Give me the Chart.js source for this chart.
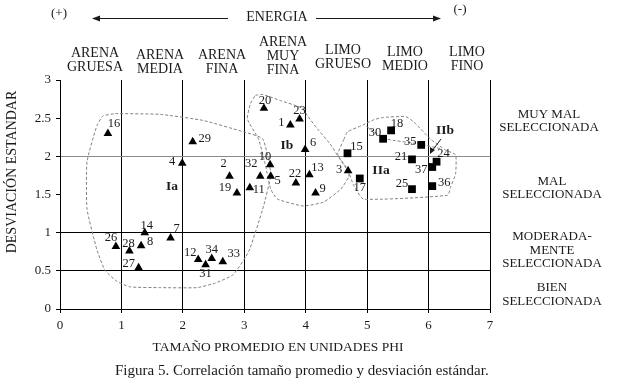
<!DOCTYPE html>
<html>
<head>
<meta charset="utf-8">
<script src="https://cdn.jsdelivr.net/npm/chart.js@4.4.1/dist/chart.umd.min.js"></script>
<style>
html,body{margin:0;padding:0;background:#fff;}
#wrap{width:617px;height:388px;position:relative;}
</style>
</head>
<body>
<div id="wrap"><canvas id="c" width="617" height="388"></canvas></div>
<script>
// ---------- DATA ----------
const triNames = ['16','29','4','2','19','11','32','10','5','20','1','23','6','22','13','9','3','14','7','26','28','8','27','12','34','31','33'];
const triX = [0.78,2.16,1.99,2.76,2.88,3.09,3.26,3.42,3.43,3.32,3.75,3.90,3.99,3.84,4.06,4.16,4.69,1.38,1.80,0.91,1.13,1.32,1.28,2.25,2.47,2.37,2.65];
const triY = [2.30,2.19,1.91,1.74,1.52,1.59,1.74,1.89,1.74,2.63,2.41,2.49,2.09,1.65,1.76,1.52,1.81,1.00,0.93,0.82,0.76,0.83,0.54,0.65,0.66,0.58,0.62];

const sqNames = ['15','17','18','30','35','21','24','37','25','36'];
const sqX = [4.68,4.88,5.39,5.26,5.88,5.73,6.13,6.06,5.73,6.06];
const sqY = [2.04,1.71,2.34,2.23,2.15,1.96,1.93,1.86,1.57,1.61];

// cluster outlines (vertices in data units)
const iaX = [0.90,1.63,2.33,2.99,3.30,3.43,3.30,3.07,2.82,2.53,2.23,1.63,1.14,0.93,0.73,0.60,0.44,0.44,0.60,0.70,0.90];
const iaY = [2.56,2.55,2.47,2.32,2.23,1.77,1.31,0.75,0.45,0.34,0.28,0.28,0.29,0.36,0.51,0.78,1.31,1.93,2.40,2.53,2.56];
const ibX = [3.18,3.30,3.59,3.95,4.03,4.19,4.40,4.52,4.70,4.70,4.57,4.29,3.96,3.54,3.43,3.34,3.23,3.05,3.10,3.18];
const ibY = [2.80,2.81,2.73,2.63,2.53,2.36,2.16,2.01,1.81,1.73,1.57,1.40,1.35,1.44,1.57,1.90,2.23,2.49,2.69,2.80];
const iiaX = [4.62,4.68,4.93,5.11,5.27,5.63,5.76,6.04,6.28,6.44,6.44,6.36,6.31,4.94,4.78,4.70,4.57,4.52,4.62];
const iiaY = [2.22,2.32,2.41,2.48,2.51,2.52,2.45,2.22,2.08,2.02,1.77,1.60,1.49,1.44,1.62,1.79,1.95,2.03,2.22];
const iibX = [4.99,5.30,5.87,6.20];
const iibY = [2.39,2.23,2.16,2.10];

const xTickValues = [0,1,2,3,4,5,6,7];
const yTickValues = [0,0.5,1,1.5,2,2.5,3];

const sizeClasses = [['ARENA','GRUESA'],['ARENA','MEDIA'],['ARENA','FINA'],['ARENA','MUY','FINA'],['LIMO','GRUESO'],['LIMO','MEDIO'],['LIMO','FINO']];
const sortingClasses = [['MUY MAL','SELECCIONADA'],['MAL','SELECCIONADA'],['MODERADA-','MENTE','SELECCIONADA'],['BIEN','SELECCIONADA']];
const groupNames = ['Ia','Ib','IIa','IIb'];

const xTitle = 'TAMAÑO PROMEDIO EN UNIDADES PHI';
const yTitle = 'DESVIACIÓN ESTANDAR';
const caption = 'Figura 5. Correlación tamaño promedio y desviación estándar.';

// ---------- STYLE / LAYOUT (not data) ----------
const FONT = "'Liberation Serif','DejaVu Serif',serif";
const triLabelOffsets = [[6,-10],[12,-3],[-10,-1],[-6,-12],[-12,-5],[9,2],[-9,-12],[-5,-8],[7,5],[1,-8],[-9,-2],[0,-8],[8,-7],[-1,-9],[8,-7],[7,-4],[-9,-1],[2,-7],[6,-9],[-5,-9],[-1,-7],[9,-4],[-10,-4],[-8,-7],[0,-9],[0,9],[11,-8]];
const sqLabelOffsets = [[9,-7],[0,9],[6,-7],[-8,-6],[-11,-3],[-11,-3],[7,-8],[-11,3],[-10,-5],[12,-3]];
const classLabelPos = [[95,[53,67]],[160,[55,69]],[222,[55,69]],[283,[42,56,70]],[343,[50,64]],[405,[52,66]],[467,[52,66]]];
const sortLabelPos = [[549,[115,128]],[552,[182,195]],[552,[237,251,264]],[552,[288,302]]];
const groupLabelPos = [[172,187],[287,146],[381,171],[445,131]];

function toPts(xs, ys){ return xs.map((x,i)=>({x:x,y:ys[i]})); }

const outlineStyle = {showLine:true, pointRadius:0, borderColor:'#808080', borderWidth:1, borderDash:[3,2], tension:0.15, fill:false};

const textPlugin = {
  id:'texts',
  afterDatasetsDraw(chart){
    const ctx = chart.ctx;
    const xs = chart.scales.x, ys = chart.scales.y;
    ctx.save();
    ctx.fillStyle = '#1a1a1a';
    ctx.textAlign = 'center';
    ctx.textBaseline = 'middle';
    // point labels
    ctx.font = '12.5px ' + FONT;
    triNames.forEach((n,i)=>{
      const px = xs.getPixelForValue(triX[i]), py = ys.getPixelForValue(triY[i]);
      ctx.fillText(n, px + triLabelOffsets[i][0], py + triLabelOffsets[i][1]);
    });
    sqNames.forEach((n,i)=>{
      const px = xs.getPixelForValue(sqX[i]), py = ys.getPixelForValue(sqY[i]);
      ctx.fillText(n, px + sqLabelOffsets[i][0], py + sqLabelOffsets[i][1]);
    });
    // group labels
    ctx.font = 'bold 13.5px ' + FONT;
    groupNames.forEach((g,i)=> ctx.fillText(g, groupLabelPos[i][0], groupLabelPos[i][1]));
    // IIb arrow
    ctx.strokeStyle = '#1a1a1a'; ctx.lineWidth = 1;
    ctx.beginPath(); ctx.moveTo(441,139); ctx.lineTo(432,151); ctx.stroke();
    ctx.beginPath(); ctx.moveTo(430,154); ctx.lineTo(430,147); ctx.lineTo(435,150); ctx.closePath(); ctx.fill();
    // size class labels
    ctx.font = '14px ' + FONT;
    sizeClasses.forEach((lines,i)=>{
      lines.forEach((t,j)=> ctx.fillText(t, classLabelPos[i][0], classLabelPos[i][1][j]));
    });
    // sorting labels
    ctx.font = '13px ' + FONT;
    sortingClasses.forEach((lines,i)=>{
      lines.forEach((t,j)=> ctx.fillText(t, sortLabelPos[i][0], sortLabelPos[i][1][j]));
    });
    // energy arrow
    ctx.font = '14px ' + FONT;
    ctx.fillText('ENERGIA', 277, 17);
    ctx.font = '13px ' + FONT;
    ctx.fillText('(+)', 59, 14);
    ctx.fillText('(-)', 460, 10);
    ctx.beginPath(); ctx.moveTo(96,18.5); ctx.lineTo(228,18.5); ctx.moveTo(316,18.5); ctx.lineTo(437,18.5); ctx.stroke();
    ctx.beginPath(); ctx.moveTo(92,18.5); ctx.lineTo(100,15.5); ctx.lineTo(100,21.5); ctx.closePath(); ctx.fill();
    ctx.beginPath(); ctx.moveTo(441,18.5); ctx.lineTo(433,15.5); ctx.lineTo(433,21.5); ctx.closePath(); ctx.fill();
    // axis titles
    ctx.font = '13.5px ' + FONT;
    ctx.fillText(xTitle, 278, 347);
    ctx.textAlign = 'left';
    ctx.font = '15px ' + FONT;
    ctx.fillText(caption, 115, 371);
    ctx.textAlign = 'center';
    ctx.save();
    ctx.translate(12, 172); ctx.rotate(-Math.PI/2);
    ctx.font = '14px ' + FONT;
    ctx.fillText(yTitle, 0, 0);
    ctx.restore();
    ctx.restore();
  }
};

new Chart(document.getElementById('c'), {
  type:'scatter',
  data:{
    datasets:[
      {label:'tri', data:toPts(triX,triY), pointStyle:'triangle', pointRadius:5, pointBackgroundColor:'#000', pointBorderWidth:0, showLine:false},
      {label:'sq', data:toPts(sqX,sqY), pointStyle:'rect', pointRadius:5.5, pointBackgroundColor:'#000', pointBorderWidth:0, showLine:false},
      Object.assign({label:'Ia', data:toPts(iaX,iaY)}, outlineStyle),
      Object.assign({label:'Ib', data:toPts(ibX,ibY)}, outlineStyle),
      Object.assign({label:'IIa', data:toPts(iiaX,iiaY)}, outlineStyle),
      Object.assign({label:'IIb', data:toPts(iibX,iibY)}, outlineStyle)
    ]
  },
  options:{
    responsive:false, animation:false, devicePixelRatio:1,
    layout:{padding:{left:0, top:80, right:127, bottom:0}},
    plugins:{legend:{display:false}, tooltip:{enabled:false}},
    scales:{
      x:{
        type:'linear', min:0, max:7,
        afterBuildTicks(s){ s.ticks = xTickValues.map(v=>({value:v})); },
        afterFit(s){ s.height = 79; },
        border:{display:true, color:'#000', width:1},
        grid:{color:(c)=> c.tick && c.tick.value > 0 ? '#000' : 'rgba(0,0,0,0)', tickColor:'#000', tickLength:4, lineWidth:1},
        ticks:{font:{family:FONT, size:13}, color:'#1a1a1a', padding:5, maxRotation:0, callback:(v)=>String(v)}
      },
      y:{
        type:'linear', min:0, max:3,
        afterBuildTicks(s){ s.ticks = yTickValues.map(v=>({value:v})); },
        afterFit(s){ s.width = 60; },
        border:{display:true, color:'#000', width:1},
        grid:{color:(c)=>{ const v = c.tick ? c.tick.value : null; if (v===2) return '#8a8a8a'; if (v===0.5||v===1) return '#000'; return 'rgba(0,0,0,0)'; }, tickColor:'#000', tickLength:4, lineWidth:1},
        ticks:{font:{family:FONT, size:13}, color:'#1a1a1a', padding:5, callback:(v)=>String(v)}
      }
    }
  },
  plugins:[textPlugin]
});
</script>
</body>
</html>
